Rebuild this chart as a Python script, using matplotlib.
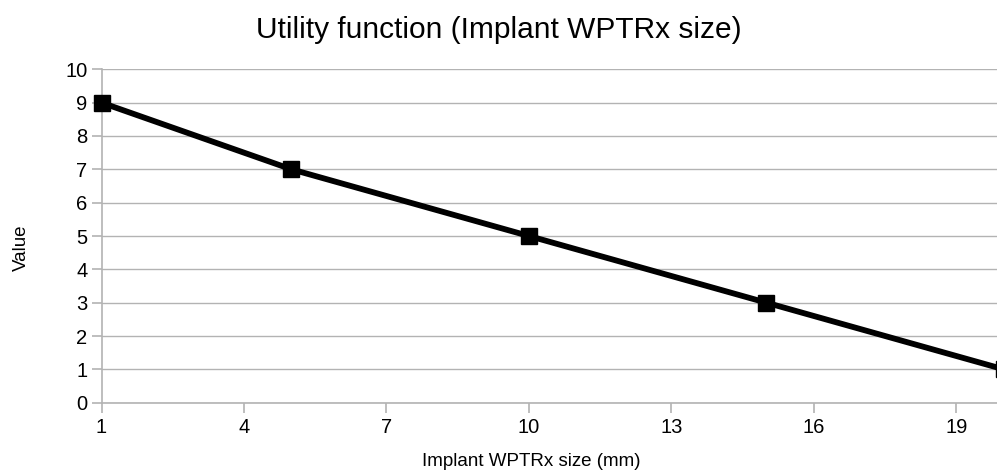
import numpy as np
import matplotlib
matplotlib.use("Agg")
import matplotlib.pyplot as plt

plt.rcParams['font.family'] = ['Liberation Sans', 'DejaVu Sans']

# data
size_mm = [1, 5, 10, 15, 20]
value = [9, 7, 5, 3, 1]
xticks = [1, 4, 7, 10, 13, 16, 19]
yticks = list(range(0, 11))

grid_c = '#b3b3b3'

fig = plt.figure(figsize=(9.97, 4.72), dpi=100)
# axes run a bit past the right edge, so the last marker is cut like in the original
ax = fig.add_axes([101.5 / 997, (472 - 402.7) / 472, (1003.9 - 101.5) / 997, (402.7 - 69.3) / 472])

ax.plot(size_mm, value, color='black', linewidth=4.2, marker='s', markersize=12,
        markerfacecolor='black', markeredgecolor='black', solid_joinstyle='miter',
        zorder=3, clip_on=False)

ax.set_xlim(1, 20)
ax.set_ylim(0, 10)
ax.set_xticks(xticks)
ax.set_yticks(yticks)
ax.yaxis.grid(True, color=grid_c, linewidth=1)
ax.set_axisbelow(True)

for s in ['top', 'right']:
    ax.spines[s].set_visible(False)
for s in ['left', 'bottom']:
    ax.spines[s].set_color(grid_c)
    ax.spines[s].set_linewidth(1.2)

ax.tick_params(axis='both', colors=grid_c, length=7, width=1.2, labelsize=14.5, labelcolor='black')
ax.tick_params(axis='y', pad=3)
ax.tick_params(axis='x', pad=4)

fig.text(0.5, 1 - 30 / 472, 'Utility function (Implant WPTRx size)', ha='center', va='center', fontsize=21.5)
fig.text(531 / 997, 1 - 462 / 472, 'Implant WPTRx size (mm)', ha='center', va='center', fontsize=13.5)
fig.text(21 / 997, 1 - 248 / 472, 'Value', ha='center', va='center', rotation=90, fontsize=13.5)

fig.savefig('out.png', dpi=100)
